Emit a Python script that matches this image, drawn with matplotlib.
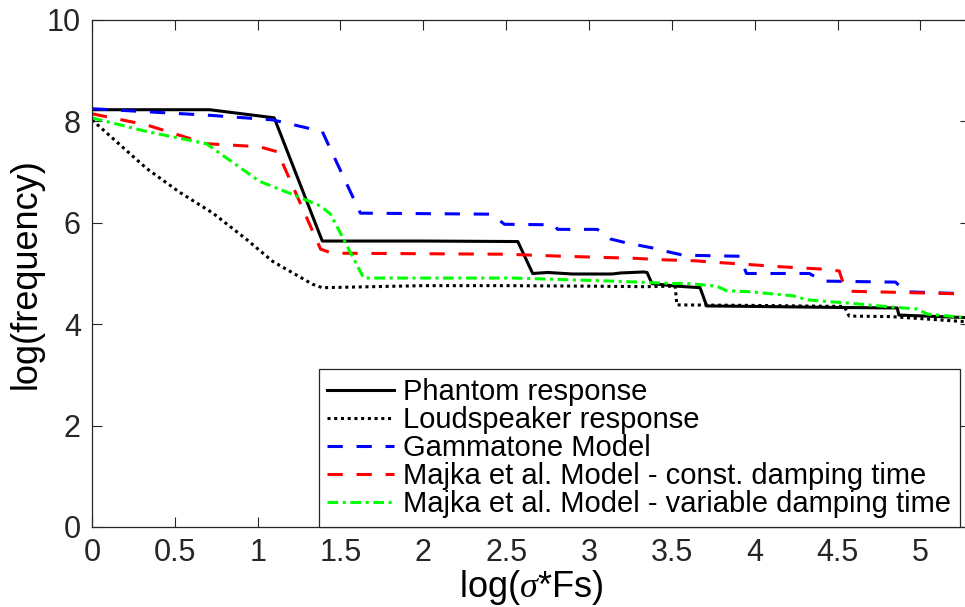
import matplotlib
matplotlib.use("Agg")
import matplotlib.pyplot as plt

plt.rcParams['font.family'] = ['Liberation Sans', 'DejaVu Sans']
plt.rcParams['mathtext.fontset'] = 'custom'
plt.rcParams['mathtext.it'] = 'Liberation Serif:italic'

# =========================
# data
# =========================
phantom_x = [0, 0.71, 1.10, 1.39, 2.00, 2.57, 2.66, 2.75, 2.90, 3.14, 3.19, 3.33, 3.35, 3.38, 3.53, 3.67, 3.71, 4.00, 4.50, 4.86, 4.87, 5.27]
phantom_y = [8.23, 8.23, 8.07, 5.64, 5.64, 5.63, 5.00, 5.02, 4.99, 4.99, 5.01, 5.03, 5.02, 4.80, 4.75, 4.72, 4.36, 4.35, 4.33, 4.32, 4.18, 4.13]

speaker_x = [0, 0.33, 0.53, 0.73, 0.93, 1.09, 1.33, 1.39, 2.0, 2.5, 3.0, 3.34, 3.52, 3.53, 3.56, 4.0, 4.54, 4.57, 4.82, 5.27]
speaker_y = [8.03, 7.07, 6.60, 6.19, 5.68, 5.24, 4.79, 4.72, 4.76, 4.76, 4.75, 4.74, 4.75, 4.38, 4.38, 4.37, 4.35, 4.16, 4.15, 4.05]

gamma_x = [0, 0.71, 1.09, 1.39, 1.62, 2.41, 2.49, 2.79, 2.81, 3.05, 3.13, 3.23, 3.39, 3.46, 3.57, 3.91, 3.95, 4.33, 4.41, 4.85, 4.91, 5.27]
gamma_y = [8.25, 8.12, 8.03, 7.80, 6.19, 6.17, 5.97, 5.96, 5.87, 5.87, 5.68, 5.60, 5.50, 5.44, 5.36, 5.34, 5.00, 5.00, 4.85, 4.83, 4.64, 4.60]

const_x = [0, 0.33, 0.69, 1.01, 1.12, 1.38, 1.45, 2.50, 2.84, 3.27, 3.45, 3.64, 3.81, 3.95, 4.17, 4.39, 4.51, 4.53, 4.57, 5.22, 5.27]
const_y = [8.15, 7.93, 7.56, 7.50, 7.40, 5.48, 5.40, 5.38, 5.34, 5.30, 5.27, 5.25, 5.21, 5.18, 5.13, 5.09, 5.05, 4.85, 4.65, 4.60, 4.56]

var_x = [0, 0.33, 0.69, 1.01, 1.21, 1.38, 1.44, 1.64, 2.54, 3.14, 3.53, 3.57, 3.77, 3.83, 3.97, 4.23, 4.32, 4.62, 4.82, 4.98, 5.04, 5.27]
var_y = [8.07, 7.80, 7.56, 6.82, 6.56, 6.33, 6.17, 4.91, 4.91, 4.85, 4.80, 4.81, 4.75, 4.66, 4.64, 4.56, 4.48, 4.40, 4.34, 4.30, 4.20, 4.13]

labels = ["Phantom response", "Loudspeaker response", "Gammatone Model",
          "Majka et al. Model - const. damping time",
          "Majka et al. Model - variable damping time"]

x_ticks = [0, 0.5, 1, 1.5, 2, 2.5, 3, 3.5, 4, 4.5, 5]
x_ticklabels = ["0", "0.5", "1", "1.5", "2", "2.5", "3", "3.5", "4", "4.5", "5"]
y_ticks = [0, 2, 4, 6, 8, 10]

# =========================
# plot
# =========================
fig = plt.figure(figsize=(9.65, 6.07), dpi=100)
ax = fig.add_axes([0.0953, 0.1318, 0.910, 0.8353])

lw = 2.2
ax.plot(phantom_x, phantom_y, color='black', lw=lw, label=labels[0])
ax.plot(speaker_x, speaker_y, color='black', lw=lw, dashes=(1, 1.2), label=labels[1])
ax.plot(gamma_x, gamma_y, color='#0000ff', lw=lw, dashes=(5, 4.5), label=labels[2])
ax.plot(const_x, const_y, color='#ff0000', lw=lw, dashes=(5, 4.5), label=labels[3])
ax.plot(var_x, var_y, color='#00ff00', lw=lw, dashes=(3.5, 1.5, 1, 1.5), label=labels[4])

ax.set_xlim(0, 5.3)
ax.set_ylim(0, 10)
ax.set_xticks(x_ticks)
ax.set_xticklabels(x_ticklabels)
ax.set_yticks(y_ticks)

ax.tick_params(direction='in', length=7, width=0.8, labelsize=22, colors='#262626',
               top=True, right=True, pad=8)
for s in ax.spines.values():
    s.set_color('#262626')
    s.set_linewidth(0.9)

ax.set_xlabel(r'log($\sigma$*Fs)', fontsize=26, labelpad=0)
ax.set_ylabel('log(frequency)', fontsize=26, labelpad=2)

leg = ax.legend(loc='lower left', bbox_to_anchor=(0.258, 0.0), borderaxespad=0,
                fontsize=21, handlelength=2.3, handletextpad=0.3,
                labelspacing=0.0, borderpad=0.3, fancybox=False,
                framealpha=1, edgecolor='#262626')
leg.get_frame().set_linewidth(0.9)

fig.savefig("out.png", dpi=100)
